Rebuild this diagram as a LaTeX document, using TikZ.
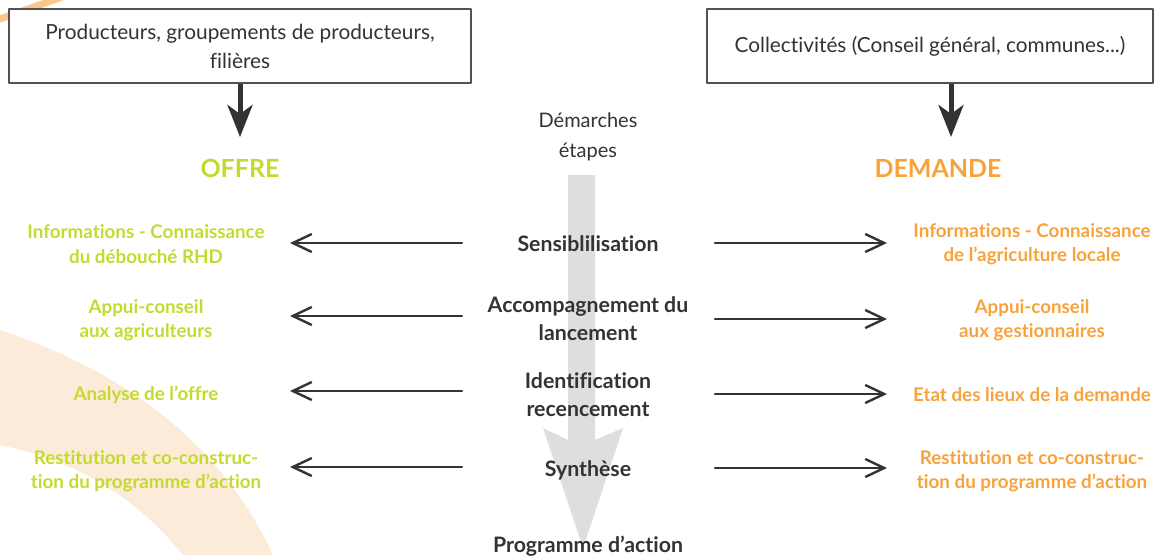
\documentclass[tikz,border=0pt]{standalone}
\usepackage{fontspec}
\setmainfont{Lato}[Ligatures=NoCommon]
\usetikzlibrary{arrows.meta}
\definecolor{vertoffre}{HTML}{C4DA2F}
\definecolor{ordemande}{HTML}{F7A23B}
\definecolor{gristexte}{HTML}{333333}
\definecolor{grisfleche}{HTML}{DEDEDE}
\definecolor{peche}{HTML}{FDEBDA}
\begin{document}
\begin{tikzpicture}[x=1pt, y=-1pt, line join=round, line cap=round,
	cadre/.style={draw=gristexte!85, line width=1.2pt, fill=white, minimum height=74pt, inner sep=0pt, align=center, text=gristexte, font=\fontsize{20.8}{29}\selectfont},
	etape/.style={align=center, inner sep=0pt, text=gristexte, font=\bfseries\fontsize{21.3}{28}\selectfont},
	cote/.style={align=center, inner sep=0pt, font=\bfseries\fontsize{18.8}{24.5}\selectfont},
	offre/.style={cote, text=vertoffre},
	demande/.style={cote, text=ordemande},
	grosse/.style={draw=gristexte, line width=5pt, line cap=butt, -{Stealth[length=32pt,width=25pt,inset=9pt]}},
	fine/.style={draw=gristexte, line width=2.4pt, -{Straight Barb[length=19pt,width=18pt]}}]
	\useasboundingbox (0,0) rectangle (1155,555);
	\clip (0,0) rectangle (1155,555);
	% fond
	\fill[peche] (0,330) .. controls (120,370) and (220,440) .. (273,555) -- (183,555) .. controls (130,490) and (70,460) .. (0,445) -- cycle;
	\draw[ordemande!60, line width=7pt] (0,19) -- (62,-3);
	\fill[grisfleche] (568,175) -- (595,175) -- (595,440) -- (623,428) -- (583,548) -- (543,428) -- (568,440) -- cycle;
	% acteurs
	\node[cadre, minimum width=462pt] (prod) at (240,46) {Producteurs, groupements de producteurs,\\ filières};
	\node[cadre, minimum width=446pt] (coll) at (930,46) {Collectivités (Conseil général, communes...)};
	\coordinate (po) at (240,137);
	\coordinate (pd) at (951,137);
	\draw[grosse] (prod.south) -- (po);
	\draw[grosse] ([xshift=21pt]coll.south) -- (pd);
	\node[cote, text=vertoffre, font=\bfseries\fontsize{25}{28}\selectfont] (offre) at (240,168) {OFFRE};
	\node[cote, text=ordemande, font=\bfseries\fontsize{25}{28}\selectfont] (demande) at (938,168) {DEMANDE};
	% etapes
	\node[etape, font=\fontsize{20}{30}\selectfont] (dem) at (588,137) {Démarches\\ étapes};
	\node[etape] (e1) at (588,244) {Sensiblilisation};
	\node[etape] (e2) at (588,319) {Accompagnement du\\ lancement};
	\node[etape] (e3) at (588,395) {Identification\\ recencement};
	\node[etape] (e4) at (588,470) {Synthèse};
	\node[etape] (e5) at (588,546) {Programme d’action};
	% offre
	\node[offre] (o1) at (146,244) {Informations - Connaissance\\ du débouché RHD};
	\node[offre] (o2) at (146,320) {Appui-conseil\\ aux agriculteurs};
	\node[offre] (o3) at (146,395) {Analyse de l’offre};
	\node[offre] (o4) at (146,471) {Restitution et co-construc-\\ tion du programme d’action};
	% demande
	\node[demande] (d1) at (1032,244) {Informations - Connaissance\\ de l’agriculture locale};
	\node[demande] (d2) at (1032,320) {Appui-conseil\\ aux gestionnaires};
	\node[demande] (d3) at (1032,395) {Etat des lieux de la demande};
	\node[demande] (d4) at (1032,471) {Restitution et co-construc-\\ tion du programme d’action};
	% fleches
	\foreach \i/\yg/\yd in {1/243/243, 2/316/319, 3/391/394, 4/467/468}{
		\coordinate (ga\i) at (462,\yg); \coordinate (gb\i) at (290,\yg);
		\coordinate (da\i) at (715,\yd); \coordinate (db\i) at (887,\yd);
		\draw[fine] (ga\i) -- (gb\i);
		\draw[fine] (da\i) -- (db\i);
	}
\end{tikzpicture}
\end{document}
